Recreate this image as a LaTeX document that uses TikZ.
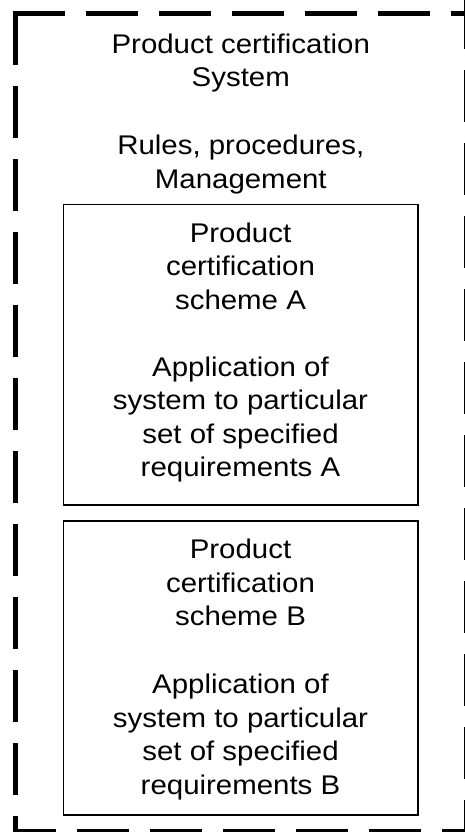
\documentclass[tikz,border=0pt]{standalone}
\usepackage{fontspec}
\setmainfont{Liberation Sans}[FakeStretch=1.09]
\begin{document}
\begin{tikzpicture}[x=1pt,y=-1pt,
  frame/.style={line width=5.5pt, dash pattern=on 52pt off 21pt},
  box/.style={draw, line width=1.6pt, minimum width=354.4pt, inner sep=0pt},
  txt/.style={align=center, inner sep=0pt, anchor=base, font=\fontsize{27}{33.45}\selectfont}]
\useasboundingbox (0,0) rectangle (465,832);
% outer dashed frame
\draw[frame] (12.75,13.5) -- (470,13.5);
\draw[frame] (15.5,13) -- (15.5,836);
\draw[frame] (467,-3) -- (467,836);
\draw[frame, dash phase=8.75pt] (12.75,831.5) -- (470,831.5);
% title texts (anchor base = last line)
\node[txt] (t1) at (240.8,86.5) {Product certification\\System};
\node[txt] (t2) at (240.8,188) {Rules, procedures,\\Management};
% box A
\node[box, minimum height=300.7pt] (A) at (240.5,354.65) {};
\node[txt] (a1) at (240.5,309) {Product\\certification\\scheme A};
\node[txt] (a2) at (240.5,476.7) {Application of\\system to particular\\set of specified\\requirements A};
% box B
\node[box, minimum height=294pt] (B) at (240.5,668) {};
\node[txt] (b1) at (240.5,625.5) {Product\\certification\\scheme B};
\node[txt] (b2) at (240.5,794) {Application of\\system to particular\\set of specified\\requirements B};
\end{tikzpicture}
\end{document}
